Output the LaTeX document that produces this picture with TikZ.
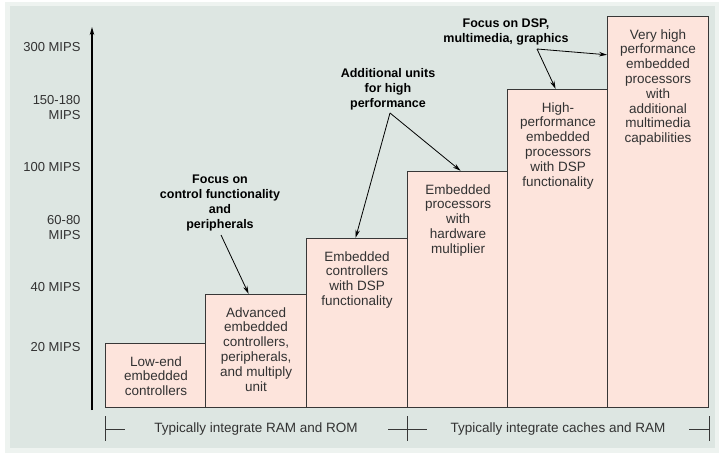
\documentclass[tikz,border=0pt]{standalone}
\usepackage{fontspec}
\setmainfont{Liberation Sans}
\usepackage{tikz}
\usetikzlibrary{arrows.meta}
\usepackage{xcolor}

\definecolor{bggreen}{RGB}{221,230,226}
\definecolor{barfill}{RGB}{253,228,220}
\definecolor{barline}{RGB}{55,55,55}
\definecolor{labelgray}{RGB}{50,50,50}

\newcommand{\barfont}{\fontsize{13.5}{14.8}\selectfont}
\newcommand{\axisfont}{\fontsize{13}{15}\selectfont}
\newcommand{\notefont}{\fontsize{12.5}{15}\selectfont\bfseries}

\begin{document}
\begin{tikzpicture}[
            x = 1pt, y = -1pt, % pixel units, y down
            > = {Stealth[length=8pt, width=4.5pt]}, % arrow head style
            bar/.style = {draw=barline, fill=barfill, line width=1.2pt,
                          minimum width=101pt, anchor=south west, inner sep=0pt},
            barlabel/.style = {anchor=north, align=center, text=labelgray,
                               font=\barfont, yshift=-10pt},
            note/.style = {align=center, font=\notefont},
            mips/.style = {anchor=east, align=right, text=labelgray, font=\axisfont},
            pointer/.style = {->, line width=0.8pt},
            bracket/.style = {draw=barline, line width=1pt}
        ]
\useasboundingbox (0,0) rectangle (720,454);
\fill[white] (0,0) rectangle (720,454);
\fill[bggreen!50] (5,2) rectangle (719,453);
\fill[bggreen] (10,6) rectangle (715,448);

% axis
\coordinate (axis bottom) at (92,410);
\coordinate (axis top) at (92,27);
\draw[->, line width=1.1pt] (axis bottom) -- (axis top);

\node[mips] (m300) at (84,47) {300 MIPS};
\node[mips] (m150) at (84,107.5) {150-180\\MIPS};
\node[mips] (m100) at (84,167) {100 MIPS};
\node[mips] (m60) at (84,227.5) {60-80\\MIPS};
\node[mips] (m40) at (84,287) {40 MIPS};
\node[mips] (m20) at (84,347) {20 MIPS};

% bars
\node[bar, minimum height=64pt] (b1) at (105,408) {};
\node[bar, minimum height=113pt] (b2) at (205,408) {};
\node[bar, minimum height=169pt] (b3) at (306,408) {};
\node[bar, minimum height=236pt] (b4) at (407,408) {};
\node[bar, minimum height=318pt] (b5) at (507,408) {};
\node[bar, minimum height=391pt] (b6) at (607,408) {};

\node[barlabel] (t1) at (b1.north) {Low-end\\embedded\\controllers};
\node[barlabel] (t2) at (b2.north) {Advanced\\embedded\\controllers,\\peripherals,\\and multiply\\unit};
\node[barlabel] (t3) at (b3.north) {Embedded\\controllers\\with DSP\\functionality};
\node[barlabel] (t4) at (b4.north) {Embedded\\processors\\with\\hardware\\multiplier};
\node[barlabel] (t5) at (b5.north) {High-\\performance\\embedded\\processors\\with DSP\\functionality};
\node[barlabel] (t6) at (b6.north) {Very high\\performance\\embedded\\processors\\with\\additional\\multimedia\\capabilities};

% notes
\node[note] (fcontrol) at (220,202.5) {Focus on\\control functionality\\and\\peripherals};
\node[note] (fextra) at (388,89) {Additional units\\for high\\performance};
\node[note] (fdsp) at (506,31.5) {Focus on DSP,\\multimedia, graphics};

\coordinate (v1) at (221,235);
\coordinate (v2) at (390,113);
\coordinate (v3) at (537,49);

 \path [pointer] (v1) edge ([xshift=-7.5pt]b2.north);
 \path [pointer] (v2) edge ([xshift=-1.5pt]b3.north);
 \path [pointer] (v2) edge ([xshift=2.5pt]b4.north);
 \path [pointer] (v3) edge ([xshift=-2.5pt]b5.north);
 \path [pointer] (v3) edge ([yshift=-39pt]b6.north west);

% brackets
\draw[bracket] (105,416) -- (105,441) (105,429) -- (125,429);
\draw[bracket] (407,416) -- (407,441) (388,429) -- (427,429);
\draw[bracket] (709,416) -- (709,441) (689,429) -- (709,429);
\node[text=labelgray, font=\barfont] (ramrom) at (256,429) {Typically integrate RAM and ROM};
\node[text=labelgray, font=\barfont] (cacheram) at (558,429) {Typically integrate caches and RAM};

\end{tikzpicture}
\end{document}
